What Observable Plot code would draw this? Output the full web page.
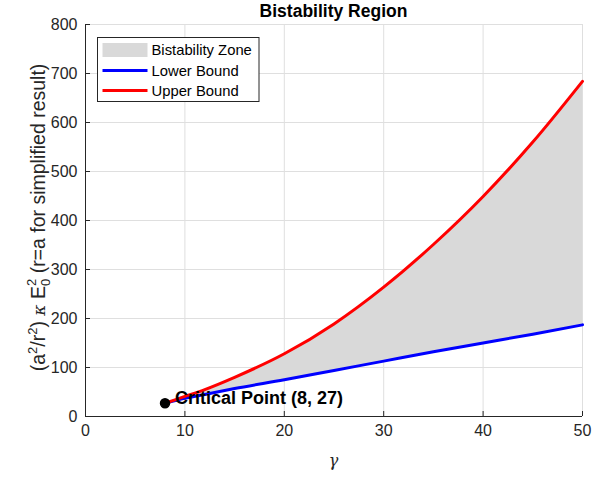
<!DOCTYPE html>
<html>
<head>
<meta charset="utf-8">
<script src="https://cdn.jsdelivr.net/npm/d3@7"></script>
<script src="https://cdn.jsdelivr.net/npm/@observablehq/plot@0.6"></script>
<style>
  html, body { margin: 0; padding: 0; background: #fff; }
  #chart svg { display: block; font-family: "Liberation Sans", Arial, Helvetica, sans-serif; }
</style>
</head>
<body>
<div id="chart"></div>
<script>
// Bistability window: lower and upper turning points of the pump intensity vs. gamma
const gamma      = [8, 10, 12, 15, 20, 25, 30, 35, 40, 45, 50];
const lowerBound = [27, 37, 45, 57, 75, 94, 113, 132, 150, 168, 187];
const upperBound = [27, 41, 55, 80, 128, 189, 264, 351, 449, 560, 684];

const criticalGamma = [8];
const criticalValue = [27];

const xTicks = [0, 10, 20, 30, 40, 50];
const yTicks = [0, 100, 200, 300, 400, 500, 600, 700, 800];

const legendLabels = ["Bistability Zone", "Lower Bound", "Upper Bound"];

const rows = gamma.map((g, i) => ({g, lo: lowerBound[i], hi: upperBound[i]}));
const critical = criticalGamma.map((g, i) => ({g, v: criticalValue[i]}));

const W = 600, H = 477;
const axisColor = "#262626";
const gridColor = "#dfdfdf";

const plot = Plot.plot({
  width: W,
  height: H,
  marginLeft: 85,
  marginRight: 18,
  marginTop: 24,
  marginBottom: 61,
  style: {fontFamily: "'Liberation Sans', Arial, Helvetica, sans-serif", fontSize: "16px", color: axisColor, background: "#fff"},
  x: {domain: [0, 50], ticks: xTicks},
  y: {domain: [0, 800], ticks: yTicks},
  marks: [
    Plot.gridX(xTicks, {stroke: gridColor, strokeOpacity: 1, strokeWidth: 1}),
    Plot.gridY(yTicks, {stroke: gridColor, strokeOpacity: 1, strokeWidth: 1}),
    Plot.areaY(rows, {x: "g", y1: "lo", y2: "hi", fill: "#d9d9d9", curve: "monotone-x"}),
    Plot.line(rows, {x: "g", y: "lo", stroke: "#0000ff", strokeWidth: 3, curve: "monotone-x"}),
    Plot.line(rows, {x: "g", y: "hi", stroke: "#ff0000", strokeWidth: 3, curve: "monotone-x"}),
    // axis lines (left and bottom only)
    Plot.ruleX([0], {stroke: axisColor, strokeWidth: 1}),
    Plot.ruleY([0], {stroke: axisColor, strokeWidth: 1}),
    // inward tick marks
    Plot.ruleX(xTicks, {x: d => d, stroke: axisColor, insetTop: 392 - 5}),
    Plot.ruleY(yTicks, {y: d => d, stroke: axisColor, insetRight: 497 - 5}),
    Plot.axisX(xTicks, {tickSize: 0, tickPadding: 8, fontSize: 16, fill: axisColor, label: null}),
    Plot.axisY(yTicks, {tickSize: 0, tickPadding: 8, fontSize: 16, fill: axisColor, label: null}),
    Plot.dot(critical, {x: "g", y: "v", r: 4.5, fill: "#000", stroke: "#000"}),
    Plot.text(critical, {
      x: "g", y: "v",
      text: d => `Critical Point (${d.g}, ${d.v})`,
      textAnchor: "start", dx: 10, dy: -5,
      fontWeight: "bold", fontSize: 18, fill: "#000"
    })
  ]
});

document.getElementById("chart").append(plot);

const svg = d3.select(plot);

// Title
svg.append("text")
  .attr("x", 333.5).attr("y", 17)
  .attr("text-anchor", "middle")
  .attr("font-weight", "bold")
  .attr("font-size", 17.5)
  .attr("fill", "#000")
  .text("Bistability Region");

// x label
svg.append("text")
  .attr("x", 333.5).attr("y", 466)
  .attr("text-anchor", "middle")
  .attr("font-family", "'DejaVu Serif', 'Liberation Serif', serif")
  .attr("font-style", "italic")
  .attr("font-size", 16)
  .attr("fill", axisColor)
  .text("γ");

// y label with superscripts and stacked sub/superscript on E
const yl = svg.append("text")
  .attr("transform", "translate(45,217.5) rotate(-90)")
  .attr("text-anchor", "middle")
  .attr("font-size", 19.5)
  .attr("fill", axisColor);
yl.append("tspan").text("(a");
yl.append("tspan").attr("font-size", 13).attr("dy", -8).text("2");
yl.append("tspan").attr("dy", 8).text("/r");
yl.append("tspan").attr("font-size", 13).attr("dy", -8).text("2");
yl.append("tspan").attr("dy", 8).text(") ");
yl.append("tspan").attr("font-family", "'DejaVu Serif', 'Liberation Serif', serif").attr("font-style", "italic").attr("font-size", 17).text("κ");
yl.append("tspan").text(" E");
yl.append("tspan").attr("font-size", 13).attr("dy", -9).text("2");
yl.append("tspan").attr("font-size", 13).attr("dx", -7.2).attr("dy", 14).text("0");
yl.append("tspan").attr("dy", -5).text(" (r=a for simplified result)");

// Legend
const lg = svg.append("g").attr("transform", "translate(97.5,37.5)");
lg.append("rect")
  .attr("width", 161.5).attr("height", 64)
  .attr("fill", "#fff").attr("stroke", axisColor).attr("stroke-width", 1);
const rowY = [12.5, 33, 53];
lg.append("rect").attr("x", 5).attr("y", rowY[0] - 7).attr("width", 45).attr("height", 14).attr("fill", "#d9d9d9");
lg.append("line").attr("x1", 5).attr("x2", 50).attr("y1", rowY[1]).attr("y2", rowY[1]).attr("stroke", "#0000ff").attr("stroke-width", 3);
lg.append("line").attr("x1", 5).attr("x2", 50).attr("y1", rowY[2]).attr("y2", rowY[2]).attr("stroke", "#ff0000").attr("stroke-width", 3);
legendLabels.forEach((t, i) => {
  lg.append("text")
    .attr("x", 54).attr("y", rowY[i])
    .attr("dy", "0.36em")
    .attr("text-anchor", "start")
    .attr("font-size", 14.8)
    .attr("fill", "#000")
    .text(t);
});
</script>
</body>
</html>
